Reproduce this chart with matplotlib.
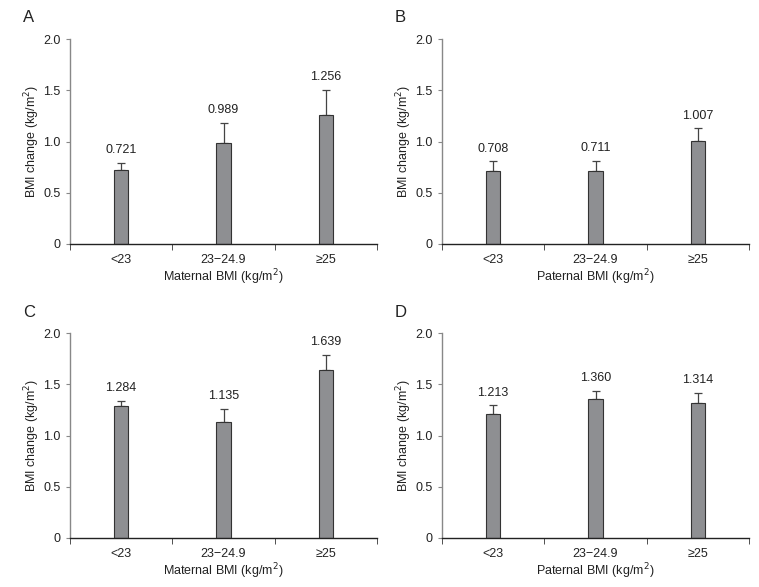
import matplotlib
matplotlib.use("Agg")
import matplotlib.pyplot as plt

plt.rcParams['font.family'] = ['Liberation Sans', 'DejaVu Sans']

categories = ["<23", "23\u221224.9", "\u226525"]

means_a = [0.721, 0.989, 1.256]
errs_a = [0.074, 0.195, 0.245]
means_b = [0.708, 0.711, 1.007]
errs_b = [0.097, 0.097, 0.120]
means_c = [1.284, 1.135, 1.639]
errs_c = [0.055, 0.120, 0.150]
means_d = [1.213, 1.360, 1.314]
errs_d = [0.080, 0.070, 0.097]

labels_a = ["0.721", "0.989", "1.256"]
labels_b = ["0.708", "0.711", "1.007"]
labels_c = ["1.284", "1.135", "1.639"]
labels_d = ["1.213", "1.360", "1.314"]

yticks = [0, 0.5, 1.0, 1.5, 2.0]
ytick_labels = ["0", "0.5", "1.0", "1.5", "2.0"]

panels = [
    ("A", means_a, errs_a, labels_a, "Maternal BMI (kg/m$^2$)", [70 / 759, 1 - 244 / 587]),
    ("B", means_b, errs_b, labels_b, "Paternal BMI (kg/m$^2$)", [442 / 759, 1 - 244 / 587]),
    ("C", means_c, errs_c, labels_c, "Maternal BMI (kg/m$^2$)", [70 / 759, 1 - 538 / 587]),
    ("D", means_d, errs_d, labels_d, "Paternal BMI (kg/m$^2$)", [442 / 759, 1 - 538 / 587]),
]

fig = plt.figure(figsize=(7.59, 5.87), dpi=100)
fs = 9
ax_w = 307 / 759
ax_h = 205 / 587

for letter, means, errs, labels, xlabel, (left, bottom) in panels:
    ax = fig.add_axes([left, bottom, ax_w, ax_h])
    x = list(range(len(categories)))
    ax.bar(x, means, width=0.14, color="#8e8f92", edgecolor="#333333", linewidth=0.8, zorder=2)
    ax.errorbar(x, means, yerr=[[0] * len(errs), errs], fmt="none", ecolor="#444444",
                elinewidth=0.9, capsize=3, capthick=0.9, zorder=1)
    for xi, m, e, lab in zip(x, means, errs, labels):
        ax.annotate(lab, (xi, m + e), xytext=(0, 5), textcoords="offset points",
                    ha="center", va="bottom", fontsize=fs, color="#222222")

    ax.set_xlim(-0.5, 2.5)
    ax.set_ylim(0, 2.0)
    ax.set_xticks(x)
    ax.set_xticklabels(categories, fontsize=fs, color="#222222")
    ax.set_xticks([-0.5, 0.5, 1.5, 2.5], minor=True)
    ax.tick_params(axis="x", which="major", length=0, pad=7)
    ax.tick_params(axis="x", which="minor", length=4, direction="out", color="#333333")
    ax.set_yticks(yticks)
    ax.set_yticklabels(ytick_labels, fontsize=fs, color="#222222")
    ax.tick_params(axis="y", length=3, color="#888888", pad=4)

    ax.spines["top"].set_visible(False)
    ax.spines["right"].set_visible(False)
    ax.spines["left"].set_color("#888888")
    ax.spines["bottom"].set_color("#222222")
    ax.spines["left"].set_linewidth(1.0)
    ax.spines["bottom"].set_linewidth(1.0)

    ax.set_xlabel(xlabel, fontsize=fs, color="#222222", labelpad=1)
    ax.set_ylabel("BMI change (kg/m$^2$)", fontsize=fs, color="#222222", labelpad=1)

    fig.text(left - 47 / 759, bottom + ax_h + 21 / 587, letter, fontsize=12,
             ha="left", va="center", color="#222222")

fig.savefig("out.png", dpi=100)
